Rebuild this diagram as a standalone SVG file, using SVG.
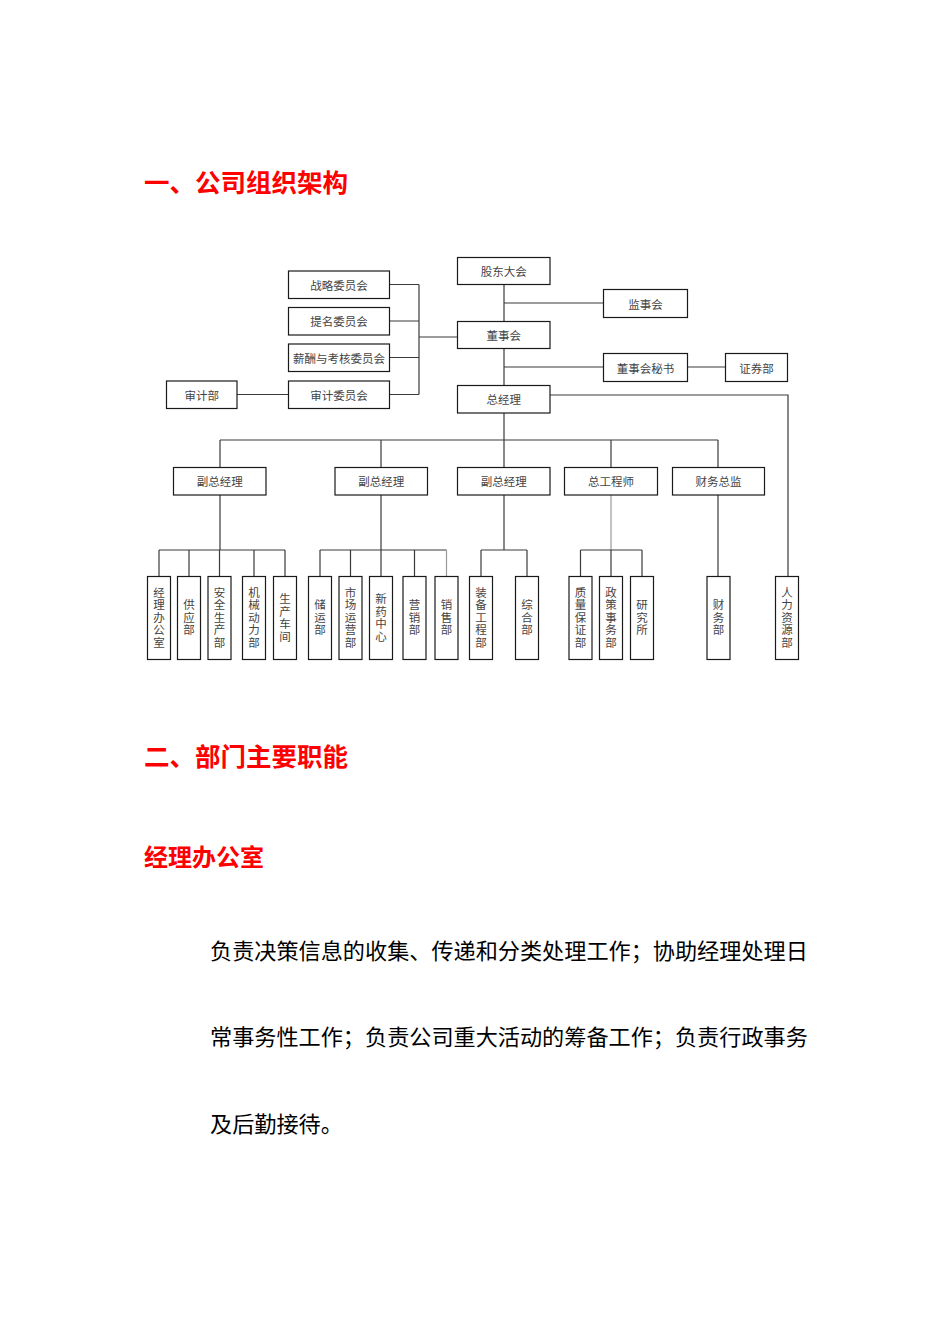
<svg xmlns="http://www.w3.org/2000/svg" width="950" height="1344" viewBox="0 0 950 1344">
<style>
.bg{fill:#fff}
.box{fill:#fff;stroke:#1a1a1a;stroke-width:1.2}
.lbl{font-family:"Noto Sans CJK SC","Noto Sans",sans-serif;font-size:11.5px;fill:#444;text-anchor:middle;dominant-baseline:central}
.vl{font-family:"Noto Sans CJK SC","Noto Sans",sans-serif;font-size:11.5px;fill:#444;text-anchor:middle;writing-mode:vertical-rl;letter-spacing:1px}
.ln{fill:none;stroke:#3a3a3a;stroke-width:1.2}
.lg{fill:none;stroke:#9a9a9a;stroke-width:1.2}
.h{font-family:"Noto Sans CJK SC","Noto Sans",sans-serif;font-weight:bold;fill:#f00}
.body{font-family:"Noto Sans CJK SC","Noto Sans",sans-serif;font-size:22.15px;fill:#000}
</style>
<rect class="bg" x="0" y="0" width="950" height="1344"/>

<text class="h" x="144" y="192" font-size="25.5">一、公司组织架构</text>

<g id="connectors">
  <path class="ln" d="M504,284 V321 M504,348 V385 M504,413 V467"/>
  <path class="ln" d="M504,303 H603 M504,367 H603 M687,367 H725"/>
  <path class="ln" d="M389,284.5 H419 M389,321 H419 M389,357.5 H419 M389,394.5 H419 M419,284.5 V394.5 M419,337 H457"/>
  <path class="ln" d="M237,394.5 H288"/>
  <path class="ln" d="M550,395 H788 V576"/>
  <path class="ln" d="M220,440 H718 M220,440 V467 M381,440 V467 M611,440 V467 M718,440 V467"/>
  <path class="ln" d="M220,495 V550 M159,550 H285 M159,550 V576 M189,550 V576 M219.5,550 V576 M254,550 V576 M285,550 V576"/>
  <path class="ln" d="M381,495 V550 M320,550 H446.5 M320,550 V576 M350.5,550 V576 M381,550 V576 M414.5,550 V576"/>
  <path class="lg" d="M446.5,550 V576"/>
  <path class="ln" d="M504,495 V550 M481,550 H527 M481,550 V576 M527,550 V576"/>
  <path class="lg" d="M611,495 V550"/>
  <path class="ln" d="M580.5,550 H642 M580.5,550 V576 M611,550 V576 M642,550 V576"/>
  <path class="ln" d="M718,495 V576"/>
</g>

<g id="n_gddh"><rect class="box" x="457.5" y="257.5" width="92.5" height="27"/><text class="lbl" x="503.7" y="271">股东大会</text></g>
<g id="n_jsh"><rect class="box" x="603.5" y="289.5" width="84" height="28"/><text class="lbl" x="645.5" y="303.5">监事会</text></g>
<g id="n_dsh"><rect class="box" x="457.5" y="321.5" width="92.5" height="27"/><text class="lbl" x="503.7" y="335">董事会</text></g>
<g id="n_dshms"><rect class="box" x="603.5" y="353.5" width="84" height="28"/><text class="lbl" x="645.5" y="367.5">董事会秘书</text></g>
<g id="n_zqb"><rect class="box" x="725.5" y="353.5" width="62" height="28"/><text class="lbl" x="756.5" y="367.5">证券部</text></g>
<g id="n_zjl"><rect class="box" x="457.5" y="385.5" width="92.5" height="27.5"/><text class="lbl" x="503.7" y="399">总经理</text></g>

<g id="n_zlwyh"><rect class="box" x="288.5" y="271" width="101" height="27.5"/><text class="lbl" x="339" y="284.7">战略委员会</text></g>
<g id="n_tmwyh"><rect class="box" x="288.5" y="307.5" width="101" height="27.5"/><text class="lbl" x="339" y="321.2">提名委员会</text></g>
<g id="n_xckh"><rect class="box" x="288.5" y="344" width="101" height="27.5"/><text class="lbl" x="339" y="357.7">薪酬与考核委员会</text></g>
<g id="n_sjwyh"><rect class="box" x="288.5" y="381" width="101" height="27.5"/><text class="lbl" x="339" y="394.7">审计委员会</text></g>
<g id="n_sjb"><rect class="box" x="166.5" y="381" width="70.5" height="27.5"/><text class="lbl" x="201.7" y="394.7">审计部</text></g>

<g id="n_vp1"><rect class="box" x="173.5" y="467.5" width="92.5" height="27.5"/><text class="lbl" x="219.7" y="481">副总经理</text></g>
<g id="n_vp2"><rect class="box" x="335" y="467.5" width="92.5" height="27.5"/><text class="lbl" x="381.2" y="481">副总经理</text></g>
<g id="n_vp3"><rect class="box" x="457.5" y="467.5" width="92.5" height="27.5"/><text class="lbl" x="503.7" y="481">副总经理</text></g>
<g id="n_zgcs"><rect class="box" x="564.5" y="467.5" width="93" height="27.5"/><text class="lbl" x="611" y="481">总工程师</text></g>
<g id="n_cwzj"><rect class="box" x="672.5" y="467.5" width="92" height="27.5"/><text class="lbl" x="718.5" y="481">财务总监</text></g>

<g id="n_jlbgs"><rect class="box" x="147.5" y="576.5" width="23" height="83"/><text class="vl" x="159" y="618">经理办公室</text></g>
<g id="n_gyb"><rect class="box" x="177.5" y="576.5" width="23" height="83"/><text class="vl" x="189" y="618">供应部</text></g>
<g id="n_aqsc"><rect class="box" x="208" y="576.5" width="23" height="83"/><text class="vl" x="219.5" y="618">安全生产部</text></g>
<g id="n_jxdl"><rect class="box" x="242.5" y="576.5" width="23" height="83"/><text class="vl" x="254" y="618">机械动力部</text></g>
<g id="n_sccj"><rect class="box" x="273.5" y="576.5" width="23" height="83"/><text class="vl" x="285" y="618">生产车间</text></g>

<g id="n_cyb"><rect class="box" x="308.5" y="576.5" width="23" height="83"/><text class="vl" x="320" y="618">储运部</text></g>
<g id="n_scyy"><rect class="box" x="339" y="576.5" width="23" height="83"/><text class="vl" x="350.5" y="618">市场运营部</text></g>
<g id="n_xyzx"><rect class="box" x="369.5" y="576.5" width="23" height="83"/><text class="vl" x="381" y="618">新药中心</text></g>
<g id="n_yxb"><rect class="box" x="403" y="576.5" width="23" height="83"/><text class="vl" x="414.5" y="618">营销部</text></g>
<g id="n_xsb"><rect class="box" x="435" y="576.5" width="23" height="83"/><text class="vl" x="446.5" y="618">销售部</text></g>

<g id="n_zbgc"><rect class="box" x="469.5" y="576.5" width="23" height="83"/><text class="vl" x="481" y="618">装备工程部</text></g>
<g id="n_zhb"><rect class="box" x="515.5" y="576.5" width="23" height="83"/><text class="vl" x="527" y="618">综合部</text></g>

<g id="n_zlbz"><rect class="box" x="569" y="576.5" width="23" height="83"/><text class="vl" x="580.5" y="618">质量保证部</text></g>
<g id="n_zcsw"><rect class="box" x="599.5" y="576.5" width="23" height="83"/><text class="vl" x="611" y="618">政策事务部</text></g>
<g id="n_yjs"><rect class="box" x="630.5" y="576.5" width="23" height="83"/><text class="vl" x="642" y="618">研究所</text></g>

<g id="n_cwb"><rect class="box" x="707" y="576.5" width="23" height="83"/><text class="vl" x="718.5" y="618">财务部</text></g>
<g id="n_rlzy"><rect class="box" x="775.5" y="576.5" width="23" height="83"/><text class="vl" x="787" y="618">人力资源部</text></g>

<text class="h" x="144" y="766" font-size="25.5">二、部门主要职能</text>
<text class="h" x="144" y="866" font-size="24">经理办公室</text>

<text class="body" x="210" y="959">负责决策信息的收集、传递和分类处理工作；协助经理处理日</text>
<text class="body" x="210" y="1045">常事务性工作；负责公司重大活动的筹备工作；负责行政事务</text>
<text class="body" x="210" y="1132">及后勤接待。</text>
</svg>
